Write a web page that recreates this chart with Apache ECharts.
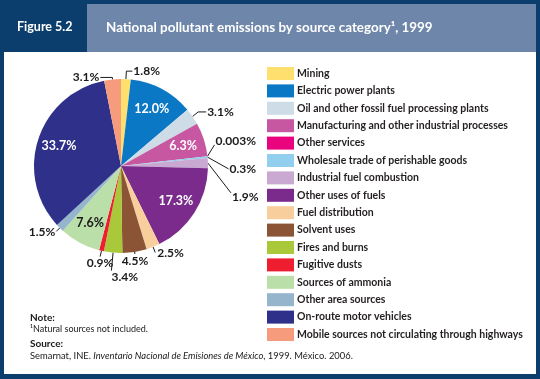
<!DOCTYPE html>
<html><head><meta charset="utf-8">
<script src="https://cdn.jsdelivr.net/npm/echarts@6/dist/echarts.min.js"></script>
<style>html,body{margin:0;padding:0;background:#0b3e6d;} #c{width:540px;height:379px;}</style>
</head><body><div id="c"></div>
<script>
const categories = [
  'Mining',
  'Electric power plants',
  'Oil and other fossil fuel processing plants',
  'Manufacturing and other industrial processes',
  'Other services',
  'Wholesale trade of perishable goods',
  'Industrial fuel combustion',
  'Other uses of fuels',
  'Fuel distribution',
  'Solvent uses',
  'Fires and burns',
  'Fugitive dusts',
  'Sources of ammonia',
  'Other area sources',
  'On-route motor vehicles',
  'Mobile sources not circulating through highways'
];
const values = [1.8, 12.0, 3.1, 6.3, 0.003, 0.3, 1.9, 17.3, 2.5, 4.5, 3.4, 0.9, 7.6, 1.5, 33.7, 3.1];
const palette = ['#ffdf6e','#0a78c5','#cddce6','#c757a1','#e9037f','#92cfee','#c9a9d1','#7a2b8b',
  '#f8cf9c','#8b5535','#a9c93b','#ee1d2f','#badfa8','#95b5cd','#2e3089','#f69c7c'];

const fmt = v => (v < 0.01 ? String(v) : v.toFixed(1)) + '%';
const FONT = 'Lato';
const INSIDE_MIN = 6;
const CX = 121, CY = 166, R = 87;

// label placement hints (style only)
const lineLen = {
  'Mobile sources not circulating through highways': [2, 12],
  'Oil and other fossil fuel processing plants': [8, 8]
};
const below = { 'Solvent uses': [2, 'center'], 'Fires and burns': [18, 'left'], 'Fugitive dusts': [6, 'center'] };
const side = { 'Fuel distribution': [6, 'left'], 'Other area sources': [5, 'right'] };
const fan = ['Other services', 'Wholesale trade of perishable goods', 'Industrial fuel combustion'];
const fanDX = [8, 22, 24], FAN_GAP = 28, FAN_SHIFT = 10;

const total = values.reduce((a, b) => a + b, 0);
const midAngle = values.map((v, i) => {
  const before = values.slice(0, i).reduce((a, b) => a + b, 0);
  return (before + v / 2) / total * Math.PI * 2;
});
const polar = (i, rho) => [CX + rho * Math.sin(midAngle[i]), CY - rho * Math.cos(midAngle[i])];

const mainData = categories.map((n, i) => ({
  name: n, value: values[i],
  itemStyle: { color: palette[i] },
  label: { show: values[i] < INSIDE_MIN },
  labelLine: Object.assign({ show: values[i] < INSIDE_MIN }, lineLen[n] ? { length: lineLen[n][0], length2: lineLen[n][1] } : {})
}));
const labelData = categories.map((n, i) => ({
  name: n, value: values[i],
  label: { show: values[i] >= INSIDE_MIN, color: n === 'Sources of ammonia' ? '#1a1a1a' : '#ffffff' }
}));

const fanMeanY = fan.reduce((a, n) => a + polar(categories.indexOf(n), R)[1], 0) / fan.length;

function layoutLabel(p) {
  const i = p.dataIndex, n = categories[i];
  if (below[n]) {
    const s = polar(i, R), e = polar(i, R + below[n][0]);
    return { x: e[0], y: e[1] + 1, align: below[n][1], verticalAlign: 'top', labelLinePoints: [s, e, e] };
  }
  if (side[n]) {
    const s = polar(i, R), e = polar(i, R + side[n][0]);
    const dx = side[n][1] === 'left' ? 2 : -1;
    return { x: e[0] + dx, y: e[1] + 1, align: side[n][1], verticalAlign: 'middle', labelLinePoints: [s, e, e] };
  }
  const k = fan.indexOf(n);
  if (k >= 0) {
    const s = polar(i, R);
    const x = s[0] + fanDX[k], y = fanMeanY + FAN_SHIFT + (k - 1) * FAN_GAP;
    const e = [x - 1, y + (1 - k) * 4];
    return { x: x, y: y, align: 'left', verticalAlign: 'middle', labelLinePoints: [s, e, e] };
  }
  return {};
}

const chart = echarts.init(document.getElementById('c'), null, { renderer: 'canvas' });
chart.setOption({
  backgroundColor: 'transparent',
  animation: false,
  graphic: [
    { type: 'rect', shape: { x: 87, y: 4, width: 449, height: 48 }, style: { fill: '#6d86aa' } },
    { type: 'rect', shape: { x: 4, y: 52, width: 532, height: 322 }, style: { fill: '#ffffff' } },
    { type: 'text', x: 17, y: 27, style: { text: 'Figure 5.2', fill: '#fff', font: 'bold 12.5px ' + FONT, verticalAlign: 'middle' } },
    { type: 'text', x: 106, y: 28, style: { text: 'National pollutant emissions by source category¹, 1999', fill: '#fff', font: 'bold 13.4px ' + FONT, verticalAlign: 'middle' } },
    { type: 'text', x: 30, y: 318, style: { text: 'Note:', fill: '#1a1a1a', font: 'bold 10px ' + FONT, verticalAlign: 'middle' } },
    { type: 'text', x: 30, y: 329, style: { text: '¹Natural sources not included.', fill: '#1a1a1a', font: '9px ' + FONT, verticalAlign: 'middle' } },
    { type: 'text', x: 30, y: 344, style: { text: 'Source:', fill: '#1a1a1a', font: 'bold 10px ' + FONT, verticalAlign: 'middle' } },
    { type: 'text', x: 30, y: 356, style: {
      text: '{n|Semarnat, INE. }{i|Inventario Nacional de Emisiones de México}{n|, 1999. México. 2006.}',
      verticalAlign: 'middle',
      rich: {
        n: { fill: '#1a1a1a', font: '9.4px ' + FONT },
        i: { fill: '#1a1a1a', font: 'italic 9.4px ' + FONT }
      }
    } }
  ],
  legend: {
    orient: 'vertical', left: 267, top: 67, padding: 0,
    itemWidth: 27, itemHeight: 13, itemGap: 4.4, icon: 'rect',
    selectedMode: false,
    data: categories,
    textStyle: { fontFamily: FONT, fontWeight: 'bold', fontSize: 10.5, color: '#231f20', padding: [0, 0, 0, -2] }
  },
  series: [
    {
      type: 'pie', center: [CX, CY], radius: R, startAngle: 90, clockwise: true,
      avoidLabelOverlap: true, minShowLabelAngle: 0,
      data: mainData,
      label: { position: 'outside', formatter: p => fmt(p.value), fontFamily: FONT, fontWeight: 'bold', fontSize: 12, color: '#1a1a1a', distanceToLabelLine: 1 },
      labelLine: { length: 8, length2: 6, lineStyle: { color: '#1a1a1a', width: 1 } },
      labelLayout: layoutLabel,
      emphasis: { disabled: true }
    },
    {
      type: 'pie', center: [CX, CY], radius: R * 1.43, startAngle: 90, clockwise: true, silent: true,
      legendHoverLink: false,
      data: labelData,
      itemStyle: { color: 'rgba(0,0,0,0)' },
      label: { position: 'inside', formatter: p => fmt(p.value), fontFamily: FONT, fontWeight: 'bold', fontSize: 12.5 },
      labelLine: { show: false },
      emphasis: { disabled: true }
    }
  ]
});
</script></body></html>
